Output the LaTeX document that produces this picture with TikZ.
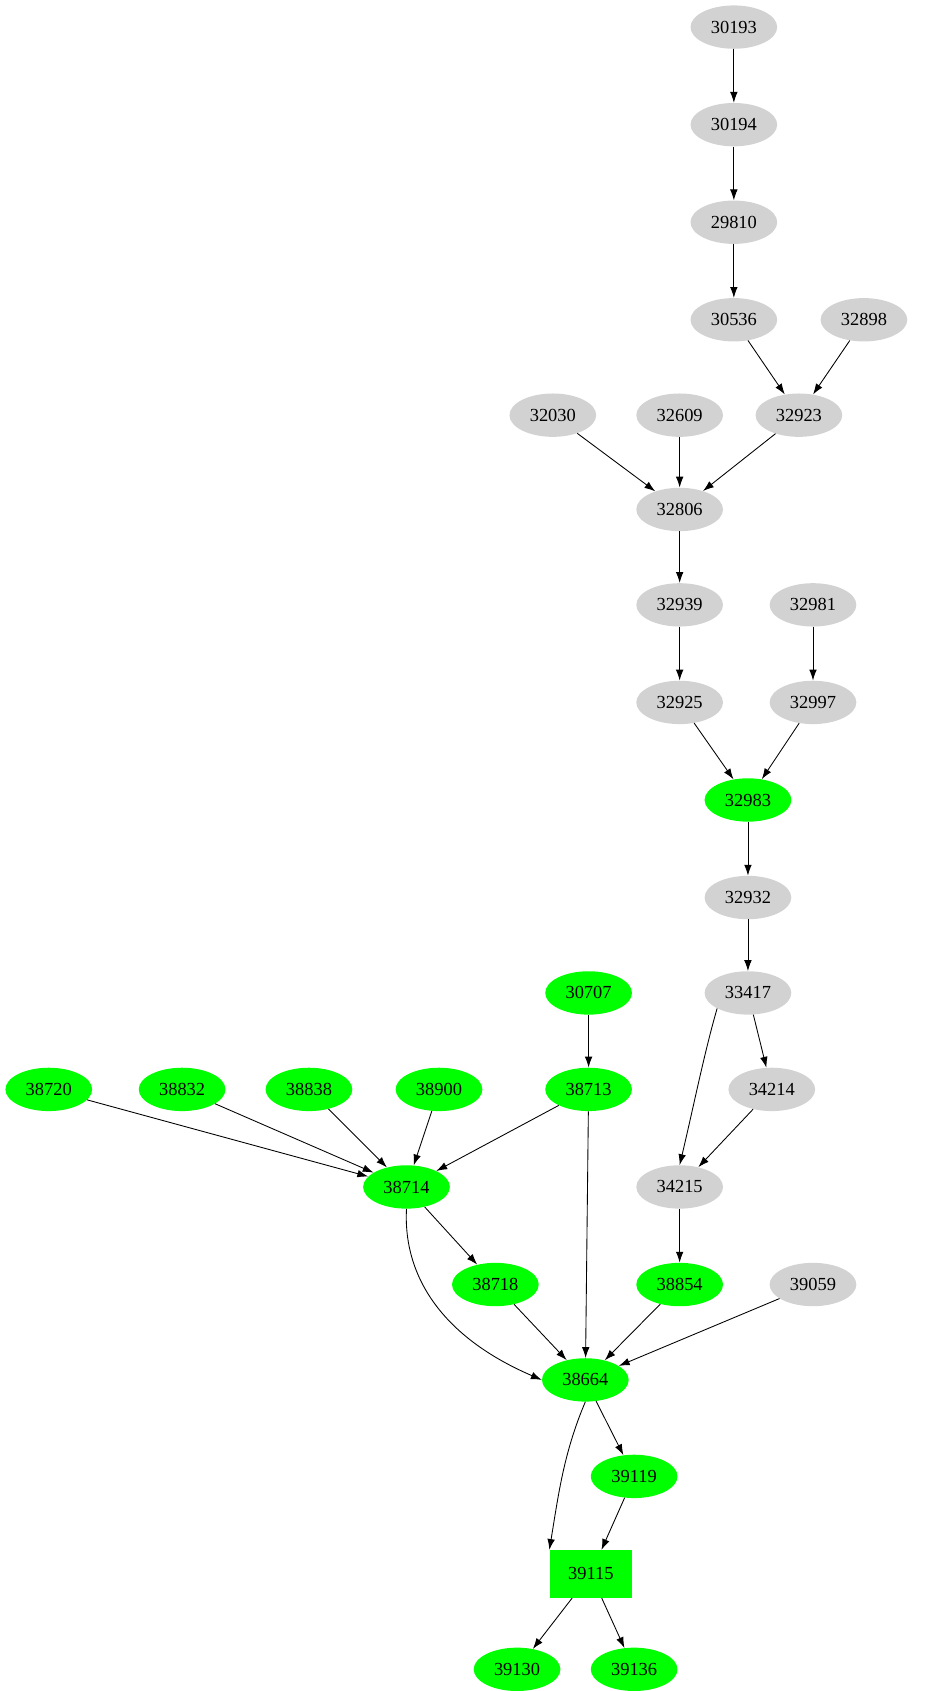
\documentclass[tikz,border=0pt]{standalone}
\usepackage{fontspec}
\setmainfont{Liberation Serif}
\usetikzlibrary{arrows.meta,shapes.geometric}
\begin{document}
\begin{tikzpicture}[x=1pt,y=-1pt,
  g/.style={ellipse,fill=gray!35,minimum width=80pt,minimum height=40pt,inner sep=0pt,font=\fontsize{17}{17}\selectfont},
  gr/.style={g,fill=green},
  bx/.style={rectangle,fill=green,minimum width=76pt,minimum height=44pt,inner sep=0pt,font=\fontsize{17}{17}\selectfont},
  e/.style={-{Latex[length=10pt,width=7pt]},line width=0.8pt}]
\useasboundingbox (0,0) rectangle (862,1560);
\node[g] (30193) at (677,25) {30193};
\node[g] (30194) at (677,115) {30194};
\node[g] (29810) at (677,205) {29810};
\node[g] (30536) at (677,295) {30536};
\node[g] (32898) at (797,295) {32898};
\node[g] (32923) at (737,383) {32923};
\node[g] (32030) at (510,383) {32030};
\node[g] (32609) at (627,383) {32609};
\node[g] (32806) at (627,470) {32806};
\node[g] (32939) at (627,558) {32939};
\node[g] (32981) at (750,558) {32981};
\node[g] (32925) at (627,648) {32925};
\node[g] (32997) at (750,648) {32997};
\node[gr] (32983) at (690,738) {32983};
\node[g] (32932) at (690,828) {32932};
\node[g] (33417) at (690,916) {33417};
\node[g] (34214) at (712,1005) {34214};
\node[g] (34215) at (627,1095) {34215};
\node[gr] (38854) at (627,1185) {38854};
\node[g] (39059) at (750,1185) {39059};
\node[gr] (30707) at (543,916) {30707};
\node[gr] (38713) at (543,1005) {38713};
\node[gr] (38720) at (45,1005) {38720};
\node[gr] (38832) at (168,1005) {38832};
\node[gr] (38838) at (285,1005) {38838};
\node[gr] (38900) at (405,1005) {38900};
\node[gr] (38714) at (375,1095) {38714};
\node[gr] (38718) at (457,1185) {38718};
\node[gr] (38664) at (540,1273) {38664};
\node[gr] (39119) at (585,1362) {39119};
\node[bx] (39115) at (545,1452) {39115};
\node[gr] (39130) at (477,1540) {39130};
\node[gr] (39136) at (585,1540) {39136};
\draw[e] (30193)--(30194);
\draw[e] (30194)--(29810);
\draw[e] (29810)--(30536);
\draw[e] (30536)--(32923);
\draw[e] (32898)--(32923);
\draw[e] (32030)--(32806);
\draw[e] (32609)--(32806);
\draw[e] (32923)--(32806);
\draw[e] (32806)--(32939);
\draw[e] (32939)--(32925);
\draw[e] (32981)--(32997);
\draw[e] (32925)--(32983);
\draw[e] (32997)--(32983);
\draw[e] (32983)--(32932);
\draw[e] (32932)--(33417);
\draw[e] (33417)--(34214);
\draw[e] (33417.south west) .. controls (650,970) and (640,1020) .. (34215.north);
\draw[e] (34214)--(34215);
\draw[e] (34215)--(38854);
\draw[e] (30707)--(38713);
\draw[e] (38720)--(38714);
\draw[e] (38832)--(38714);
\draw[e] (38838)--(38714);
\draw[e] (38900)--(38714);
\draw[e] (38713)--(38714);
\draw[e] (38713)--(38664);
\draw[e] (38714)--(38718);
\draw[e] (38714.south) .. controls (372,1170) and (400,1230) .. (38664.west);
\draw[e] (38718)--(38664);
\draw[e] (38854)--(38664);
\draw[e] (39059)--(38664);
\draw[e] (38664)--(39119);
\draw[e] (38664.south) .. controls (520,1340) and (515,1380) .. (39115.north west);
\draw[e] (39119)--(39115);
\draw[e] (39115)--(39130);
\draw[e] (39115)--(39136);
\end{tikzpicture}
\end{document}
